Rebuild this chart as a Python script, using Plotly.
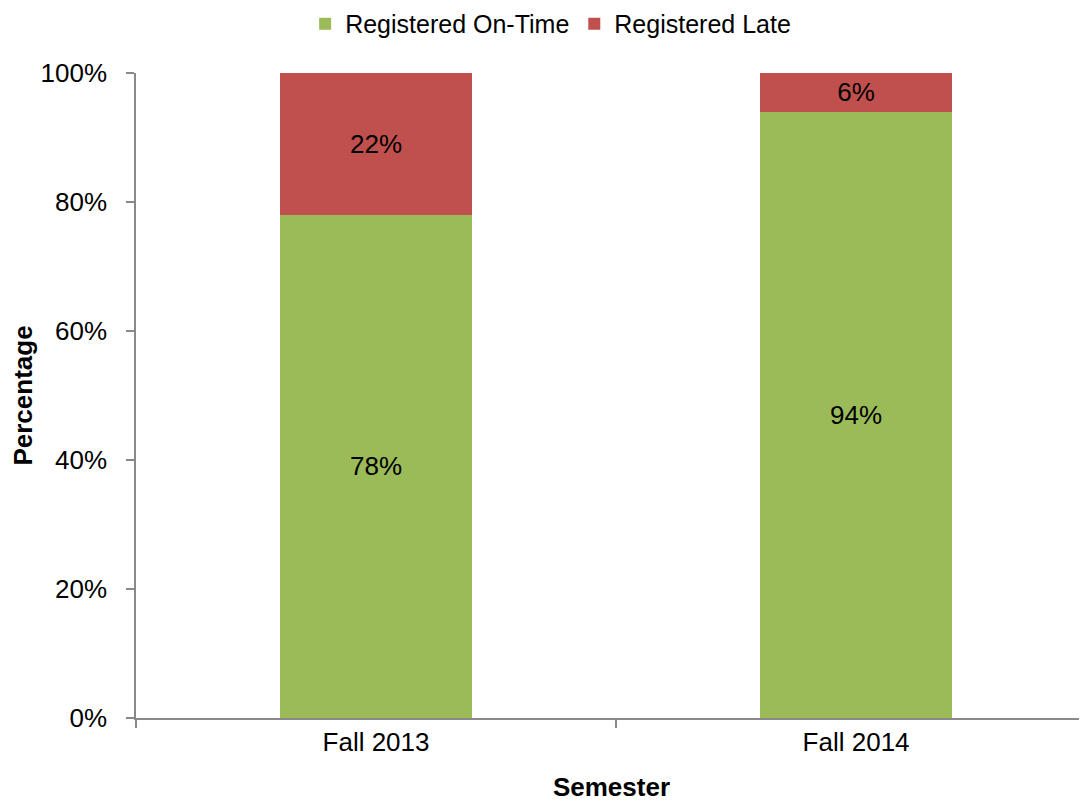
import plotly.graph_objects as go

semesters = ["Fall 2013", "Fall 2014"]
on_time = [78, 94]
late = [22, 6]
y_ticks = [0, 20, 40, 60, 80, 100]
y_tick_labels = ["0%", "20%", "40%", "60%", "80%", "100%"]

FONT = "Liberation Sans, Arial, sans-serif"
fs = 26

fig = go.Figure()
fig.add_trace(go.Bar(
    x=semesters, y=on_time, name="Registered On-Time",
    marker=dict(color="#9BBB59", line=dict(width=0)),
    text=[f"{v}%" for v in on_time], textposition="inside",
    insidetextanchor="middle", textfont=dict(color="black", size=fs, family=FONT),
    width=0.4,
))
fig.add_trace(go.Bar(
    x=semesters, y=late, name="Registered Late",
    marker=dict(color="#C0504D", line=dict(width=0)),
    text=[f"{v}%" for v in late], textposition="inside",
    insidetextanchor="middle", textfont=dict(color="black", size=fs, family=FONT),
    width=0.4,
))

# page body has an 8px margin, so the figure is sized to fit the remaining window
fig.update_layout(
    barmode="stack",
    width=1079, height=794,
    margin=dict(l=128, r=0, t=65, b=84, autoexpand=False),
    paper_bgcolor="white", plot_bgcolor="white",
    font=dict(family=FONT, size=fs, color="black"),
    legend=dict(orientation="h", x=0.436, xanchor="center", y=1.076, yanchor="middle",
                yref="paper", font=dict(size=25), itemwidth=30, traceorder="normal",
                tracegroupgap=0),
    showlegend=True,
)
fig.update_xaxes(
    type="category", range=[-0.5, 1.481], tickson="boundaries",
    ticks="outside", ticklen=8, tickcolor="#898989", tickwidth=1.5,
    showline=True, linecolor="#898989", linewidth=1.5, showgrid=False,
    tickfont=dict(size=fs), automargin=False,
    title=dict(text="<b>Semester</b>", font=dict(size=fs), standoff=24),
)
fig.update_yaxes(
    range=[0, 100], tickvals=y_ticks, ticktext=y_tick_labels,
    ticks="outside", ticklen=8, tickcolor="#898989", tickwidth=1.5,
    showline=True, linecolor="#898989", linewidth=1.5, showgrid=False, zeroline=False,
    tickfont=dict(size=fs), automargin=False, ticklabelstandoff=14,
    title=dict(text="<b>Percentage</b>", font=dict(size=fs), standoff=16),
)

fig.write_html("out.html")
